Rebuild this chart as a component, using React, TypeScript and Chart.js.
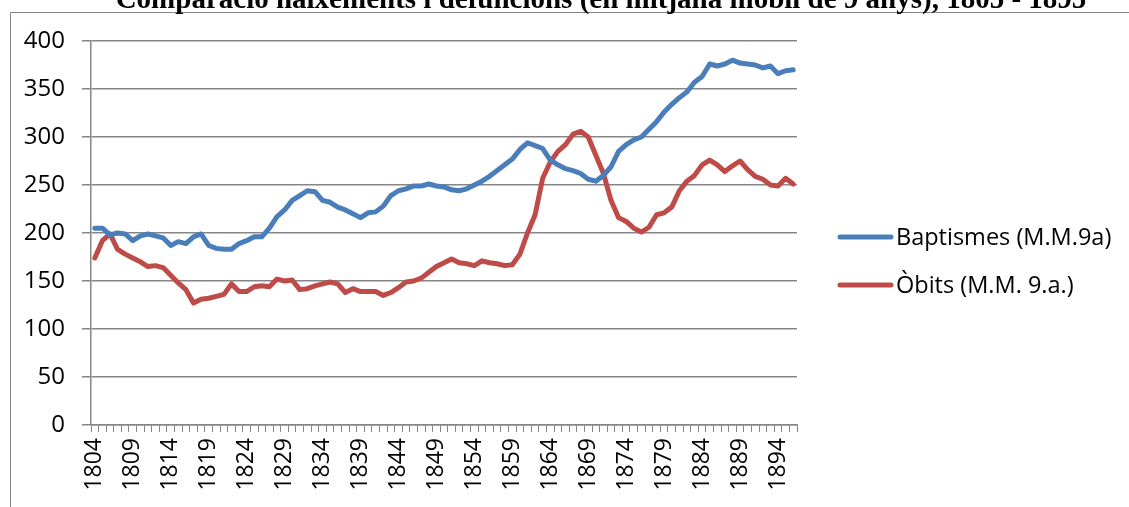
import React, { useEffect, useRef } from "react";
import { Chart, registerables } from "chart.js";

Chart.register(...registerables);

const TITLE = "Comparació naixements i defuncions (en mitjana mòbil de 9 anys), 1805 - 1895";

const years: string[] = [];
for (let y = 1804; y <= 1896; y++) years.push(String(y));

const baptismes = [
  205, 205, 198, 200, 199, 192, 197, 199, 197, 195,
  187, 191, 189, 196, 199, 187, 184, 183, 183, 189,
  192, 196, 196, 205, 217, 224, 234, 239, 244, 243,
  234, 232, 227, 224, 220, 216, 221, 222, 228, 239,
  244, 246, 249, 249, 251, 249, 248, 245, 244, 246,
  250, 254, 259, 265, 271, 277, 287, 294, 291, 288,
  276, 271, 267, 265, 262, 256, 254, 260, 269, 285,
  292, 297, 300, 308, 316, 326, 334, 341, 347, 357,
  363, 376, 374, 376, 380, 377, 376, 375, 372, 374,
  366, 369, 370,
];

const obits = [
  174, 192, 199, 183, 178, 174, 170, 165, 166, 164,
  156, 148, 141, 127, 131, 132, 134, 136, 147, 139,
  139, 144, 145, 144, 152, 150, 151, 141, 142, 145,
  147, 149, 147, 138, 142, 139, 139, 139, 135, 138,
  143, 149, 150, 153, 159, 165, 169, 173, 169, 168,
  166, 171, 169, 168, 166, 167, 178, 200, 219, 257,
  274, 285, 292, 303, 306, 300, 281, 262, 234, 216,
  212, 205, 201, 206, 219, 221, 227, 244, 254, 260,
  271, 276, 271, 264, 270, 275, 266, 259, 256, 250,
  249, 257, 251,
];

const seriesNames = ["Baptismes (M.M.9a)", "Òbits (M.M. 9.a.)"];
const seriesColors = ["#4A7EBB", "#BE4B48"];

const W = 1129;
const H = 507;
const GRID = "#868686";
const FONT = '"Open Sans", sans-serif';

const decor = {
  id: "decor",
  beforeDraw(chart: any) {
    const ctx = chart.ctx;
    ctx.save();
    ctx.fillStyle = "#ffffff";
    ctx.fillRect(0, 0, W, H);
    ctx.strokeStyle = GRID;
    ctx.lineWidth = 1;
    ctx.strokeRect(10.5, 12.5, 3000, 3000);
    ctx.restore();
  },
  afterDraw(chart: any) {
    const ctx = chart.ctx;
    ctx.save();
    ctx.fillStyle = "#000000";
    ctx.font = 'bold 29px "Liberation Serif", serif';
    ctx.textAlign = "center";
    ctx.textBaseline = "alphabetic";
    ctx.fillText(TITLE, 601, 8);

    const ys = [237, 285];
    const bases = [245, 293];
    chart.data.datasets.forEach((ds: any, i: number) => {
      ctx.strokeStyle = ds.borderColor;
      ctx.lineWidth = 5;
      ctx.lineCap = "round";
      ctx.beginPath();
      ctx.moveTo(840, ys[i]);
      ctx.lineTo(891, ys[i]);
      ctx.stroke();
      ctx.fillStyle = "#000000";
      ctx.font = `23.5px ${FONT}`;
      ctx.textAlign = "left";
      ctx.fillText(ds.label, 896, bases[i]);
    });
    ctx.restore();
  },
};

export default function App() {
  const ref = useRef<HTMLCanvasElement | null>(null);
  useEffect(() => {
    if (!ref.current) return;
    const chart = new Chart(ref.current, {
      type: "line",
      data: {
        labels: years,
        datasets: [
          {
            label: seriesNames[0],
            data: baptismes,
            borderColor: seriesColors[0],
            backgroundColor: seriesColors[0],
            borderWidth: 5,
            pointRadius: 0,
            tension: 0,
            borderJoinStyle: "round",
            borderCapStyle: "round",
          },
          {
            label: seriesNames[1],
            data: obits,
            borderColor: seriesColors[1],
            backgroundColor: seriesColors[1],
            borderWidth: 5,
            pointRadius: 0,
            tension: 0,
            borderJoinStyle: "round",
            borderCapStyle: "round",
          },
        ],
      },
      options: {
        animation: false,
        responsive: false,
        devicePixelRatio: 1,
        layout: { padding: { left: 0, top: 41, right: W - 797, bottom: 0 } },
        plugins: {
          legend: { display: false },
          title: { display: false },
          tooltip: { enabled: false },
        },
        scales: {
          x: {
            type: "category",
            offset: true,
            grid: {
              offset: true,
              drawOnChartArea: false,
              drawTicks: true,
              tickLength: 7,
              color: GRID,
              lineWidth: 1,
            },
            border: { display: true, color: GRID, width: 1.5 },
            ticks: {
              autoSkip: false,
              minRotation: 90,
              maxRotation: 90,
              padding: 6,
              color: "#000000",
              font: { family: FONT, size: 23 },
              callback: (_v: any, idx: number) => (idx % 5 === 0 ? years[idx] : ""),
            },
            afterFit: (scale: any) => {
              scale.height = H - 425;
            },
          },
          y: {
            min: 0,
            max: 400,
            ticks: {
              stepSize: 50,
              padding: 17,
              color: "#000000",
              font: { family: FONT, size: 24 },
            },
            grid: {
              color: GRID,
              lineWidth: 1.5,
              tickLength: 9,
              drawTicks: true,
            },
            border: { display: true, color: GRID, width: 1.5 },
            afterFit: (scale: any) => {
              scale.width = 91;
            },
          },
        },
      },
      plugins: [decor],
    });
    return () => chart.destroy();
  }, []);
  return (
    <div style={{ position: "fixed", left: 0, top: 0, width: W, height: H, background: "#fff" }}>
      <canvas ref={ref} width={W} height={H} style={{ display: "block", width: W, height: H }} />
    </div>
  );
}
